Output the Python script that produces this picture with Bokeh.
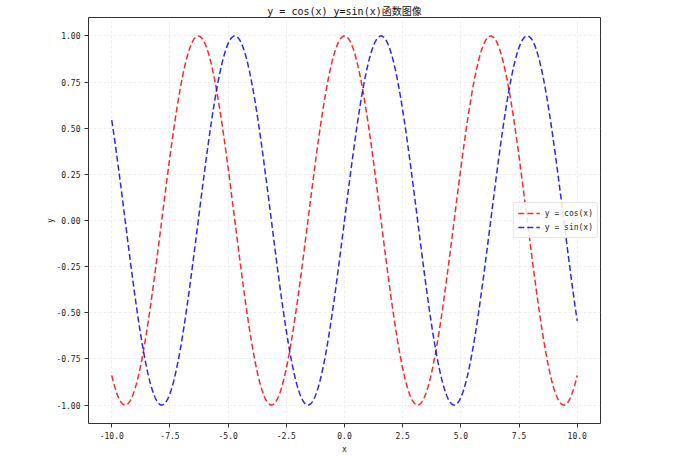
import numpy as np
from bokeh.plotting import figure
from bokeh.models import Range1d, FixedTicker, NumeralTickFormatter, Legend, LegendItem
from bokeh.embed import file_html
from bokeh.resources import INLINE

# data: the chart plots y = cos(x) and y = sin(x) on x in [-10, 10]
x_vals = np.linspace(-10, 10, 400)
cos_vals = np.cos(x_vals)
sin_vals = np.sin(x_vals)
x_ticks = [-10, -7.5, -5, -2.5, 0, 2.5, 5, 7.5, 10]
y_ticks = [-1.0, -0.75, -0.5, -0.25, 0.0, 0.25, 0.5, 0.75, 1.0]

FONT = "DejaVu Sans Mono, Noto Sans CJK SC"

p = figure(width=680, height=456, output_backend="svg", toolbar_location=None,
           x_range=Range1d(-11, 11), y_range=Range1d(-1.1, 1.1),
           title="y = cos(x) y=sin(x)函数图像",
           min_border_left=88, min_border_right=80, min_border_top=17, min_border_bottom=10)

p.title.align = "center"
p.title.text_font = FONT
p.title.text_font_size = "10px"
p.title.text_font_style = "normal"
p.title.text_color = "#111111"
p.title.standoff = 2
p.title.offset = 0

r1 = p.line(x_vals, cos_vals, line_color="red", line_width=1.5, line_dash="6 3", line_alpha=0.85)
r2 = p.line(x_vals, sin_vals, line_color="blue", line_width=1.5, line_dash="6 3", line_alpha=0.85)

legend = Legend(items=[LegendItem(label="y = cos(x)", renderers=[r1]),
                       LegendItem(label="y = sin(x)", renderers=[r2])],
                location="center_right")
legend.label_text_font = FONT
legend.label_text_font_size = "8px"
legend.label_text_color = "#222222"
legend.glyph_width = 22
legend.glyph_height = 12
legend.label_height = 12
legend.spacing = 2
legend.padding = 4
legend.margin = 2
legend.border_line_color = "#cccccc"
legend.border_radius = 3
legend.background_fill_alpha = 0.85
p.add_layout(legend, "center")

p.outline_line_color = "#333333"
p.outline_line_width = 1

for ax in (p.xaxis, p.yaxis):
    ax.axis_line_color = None
    ax.major_tick_line_color = "#333333"
    ax.major_tick_out = 4
    ax.major_tick_in = 0
    ax.minor_tick_line_color = None
    ax.major_label_text_font = FONT
    ax.major_label_text_font_size = "8px"
    ax.major_label_text_color = "#222222"
    ax.major_label_standoff = 4
    ax.axis_label_text_font = FONT
    ax.axis_label_text_font_size = "8px"
    ax.axis_label_text_font_style = "normal"
    ax.axis_label_text_color = "#222222"

p.xaxis.ticker = FixedTicker(ticks=x_ticks)
p.yaxis.ticker = FixedTicker(ticks=y_ticks)
p.xaxis.formatter = NumeralTickFormatter(format="0.0")
p.yaxis.formatter = NumeralTickFormatter(format="0.00")
p.xaxis.axis_label = "x"
p.yaxis.axis_label = "y"
p.xaxis.axis_label_standoff = 3
p.yaxis.axis_label_standoff = -2

p.xgrid.grid_line_color = "#e3e3e3"
p.ygrid.grid_line_color = "#e3e3e3"
p.xgrid.grid_line_dash = "3 2"
p.ygrid.grid_line_dash = "3 2"
p.xgrid.grid_line_alpha = 0.6
p.ygrid.grid_line_alpha = 0.6

open("out.html", "w").write(file_html(p, INLINE))
